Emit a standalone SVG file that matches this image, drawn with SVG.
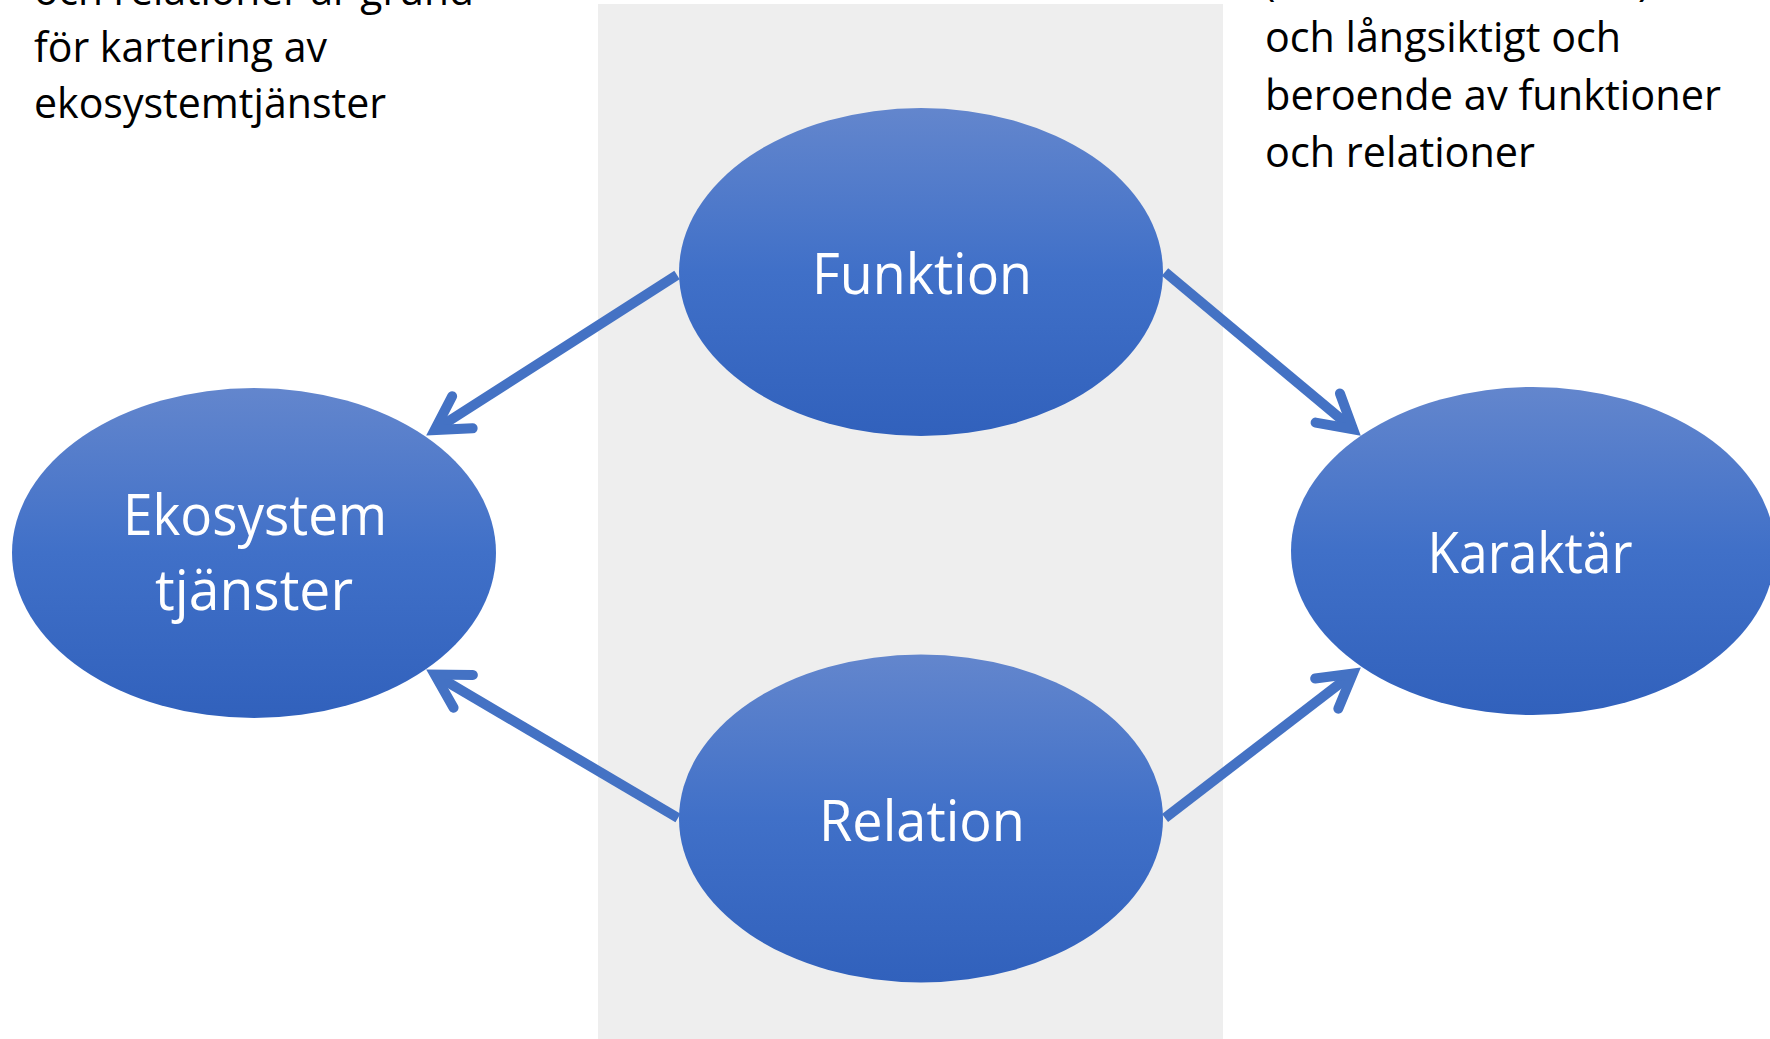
<svg xmlns="http://www.w3.org/2000/svg" width="1770" height="1039" viewBox="0 0 1770 1039">
  <style>
    .note { font-family: "Open Sans", "Liberation Sans", sans-serif; font-size: 42px; fill: #000000; }
    .label { font-family: "Open Sans", "Liberation Sans", sans-serif; font-size: 57px; fill: #ffffff; text-anchor: middle; }
    .node { fill: url(#blueGrad); }
    .conn { stroke: #4472C4; stroke-width: 10; fill: none; stroke-linecap: butt; marker-end: url(#openArrow); }
  </style>
  <defs>
    <linearGradient id="blueGrad" x1="0" y1="0" x2="0" y2="1">
      <stop offset="0" stop-color="#6386CD"/>
      <stop offset="0.5" stop-color="#4070C8"/>
      <stop offset="1" stop-color="#3161BC"/>
    </linearGradient>
    <marker id="openArrow" markerUnits="userSpaceOnUse" orient="auto" refX="0" refY="0" markerWidth="60" markerHeight="60" viewBox="-50 -30 60 60" overflow="visible">
      <path d="M-33,-19 L0,0 L-33,19" fill="none" stroke="#4472C4" stroke-width="10" stroke-linecap="round" stroke-linejoin="miter"/>
    </marker>
  </defs>

  <rect x="0" y="0" width="1770" height="1039" fill="#ffffff"/>
  <rect id="band" x="598" y="4" width="625" height="1035" fill="#EEEEEE"/>

  <g id="notes">
    <text class="note" x="34" y="5" textLength="440" lengthAdjust="spacingAndGlyphs">och relationer är grund</text>
    <text class="note" x="34" y="62" textLength="293" lengthAdjust="spacingAndGlyphs">för kartering av</text>
    <text class="note" x="34" y="118" textLength="352" lengthAdjust="spacingAndGlyphs">ekosystemtjänster</text>
    <text class="note" x="1263" y="-5">(</text>
    <text class="note" x="1638" y="-5">)</text>
    <text class="note" x="1265" y="52" textLength="356" lengthAdjust="spacingAndGlyphs">och långsiktigt och</text>
    <text class="note" x="1265" y="110" textLength="456" lengthAdjust="spacingAndGlyphs">beroende av funktioner</text>
    <text class="note" x="1265" y="167" textLength="270" lengthAdjust="spacingAndGlyphs">och relationer</text>
  </g>

  <g id="connectors">
    <path class="conn" d="M677,275 L434.6,430.1"/>
    <path class="conn" d="M1165,272 L1353.1,429.2"/>
    <path class="conn" d="M678,818 L434.8,674.6"/>
    <path class="conn" d="M1165,818 L1352.9,673.5"/>
  </g>

  <g id="funktion">
    <ellipse class="node" cx="921" cy="272" rx="242" ry="164"/>
    <text class="label" x="922" y="294" textLength="220" lengthAdjust="spacingAndGlyphs">Funktion</text>
  </g>

  <g id="relation">
    <ellipse class="node" cx="921" cy="818.5" rx="242" ry="164"/>
    <text class="label" x="922" y="841" textLength="206" lengthAdjust="spacingAndGlyphs">Relation</text>
  </g>

  <g id="ekosystemtjanster">
    <ellipse class="node" cx="254" cy="553" rx="242" ry="165"/>
    <text class="label" x="255" y="535" textLength="264" lengthAdjust="spacingAndGlyphs">Ekosystem</text>
    <text class="label" x="254" y="610" textLength="198" lengthAdjust="spacingAndGlyphs">tjänster</text>
  </g>

  <g id="karaktar">
    <ellipse class="node" cx="1533" cy="551" rx="242" ry="164"/>
    <text class="label" x="1530" y="573" textLength="205" lengthAdjust="spacingAndGlyphs">Karaktär</text>
  </g>
</svg>
